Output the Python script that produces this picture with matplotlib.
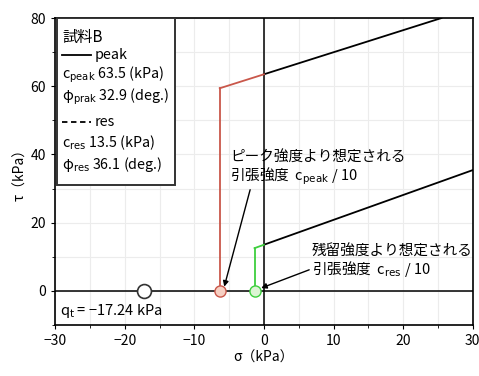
import numpy as np
import matplotlib
matplotlib.use('Agg')
import matplotlib.pyplot as plt
from matplotlib.patches import Rectangle
from matplotlib.lines import Line2D

plt.rcParams['font.family'] = ['Noto Sans CJK JP', 'DejaVu Sans']
plt.rcParams['mathtext.fontset'] = 'dejavusans'

# envelopes
peak_sigma = [-6.35, 0.0, 25.5]
peak_tau = [59.4, 63.5, 80.0]
res_sigma = [-1.35, 0.0, 30.0]
res_tau = [12.5, 13.5, 35.4]
qt = -17.24
legend_lines = ["試料B", "peak", r"c$_{\mathrm{peak}}$ 63.5 (kPa)", r"φ$_{\mathrm{prak}}$ 32.9 (deg.)",
                "res", r"c$_{\mathrm{res}}$ 13.5 (kPa)", r"φ$_{\mathrm{res}}$ 36.1 (deg.)"]

fig = plt.figure(figsize=(4.79, 3.76), dpi=100)
ax = fig.add_axes([0.115, 0.136, 0.872, 0.816])

ax.set_xlim(-30, 30)
ax.set_ylim(-10, 80)
ax.set_xticks(np.arange(-30, 31, 10))
ax.set_xticks(np.arange(-30, 31, 5), minor=True)
ax.set_yticks(np.arange(0, 81, 20))
ax.set_yticks(np.arange(-10, 81, 10), minor=True)
ax.grid(True, which='both', color='#ececec', lw=0.8)
ax.set_axisbelow(True)
ax.tick_params(labelsize=10, direction='out', length=3)
ax.tick_params(which='minor', length=2)
for s in ax.spines.values():
    s.set_linewidth(1.2)

ax.axhline(0, color='black', lw=1.1)
ax.axvline(0, color='black', lw=1.1)

red = '#c9574a'
green = '#3ecf3e'
# peak
ax.plot(peak_sigma[1:], peak_tau[1:], color='black', lw=1.3)
ax.plot(peak_sigma[:2], peak_tau[:2], color=red, lw=1.3)
ax.plot([peak_sigma[0], peak_sigma[0]], [0, peak_tau[0]], color=red, lw=1.3)
# res
ax.plot(res_sigma[1:], res_tau[1:], color='black', lw=1.3)
ax.plot(res_sigma[:2], res_tau[:2], color=green, lw=1.3)
ax.plot([res_sigma[0], res_sigma[0]], [0, res_tau[0]], color=green, lw=1.3)

ax.plot([qt], [0], 'o', ms=10, mfc='white', mec='#333333', mew=1.2, zorder=5)
ax.plot([peak_sigma[0]], [0], 'o', ms=8, mfc='#f6cfc2', mec=red, mew=1.0, zorder=5)
ax.plot([res_sigma[0]], [0], 'o', ms=8, mfc='#dcf5d4', mec=green, mew=1.0, zorder=5)

ax.text(-29.3, -6, r"q$_{\mathrm{t}}$ = −17.24 kPa", fontsize=10.5, va='center')

ax.annotate("ピーク強度より想定される\n引張強度  c$_{\\mathrm{peak}}$ / 10",
            xy=(-5.7, 1.2), xytext=(-4.9, 35.8), fontsize=10.5, va='center',
            linespacing=1.05,
            arrowprops=dict(arrowstyle='-|>', color='black', lw=1, shrinkA=0, shrinkB=0,
                            relpos=(0.12, 0.0), mutation_scale=8))
ax.annotate("残留強度より想定される\n引張強度  c$_{\\mathrm{res}}$ / 10",
            xy=(-0.4, 0.8), xytext=(6.9, 8.5), fontsize=10.5, va='center',
            linespacing=1.05,
            arrowprops=dict(arrowstyle='-|>', color='black', lw=1, shrinkA=0, shrinkB=0,
                            relpos=(0.0, 0.3), mutation_scale=8))

# legend box
ax.add_patch(Rectangle((0.005, 0.456), 0.282, 0.544, transform=ax.transAxes,
                       facecolor='white', edgecolor='#333333', lw=1.4, zorder=6))
ys = [0.938, 0.879, 0.814, 0.743, 0.661, 0.593, 0.524]
for i, (t, y) in enumerate(zip(legend_lines, ys)):
    x = 0.017
    if i in (1, 4):
        ls = '-' if i == 1 else (0, (3, 2))
        ax.add_line(Line2D([0.017, 0.085], [y, y], transform=ax.transAxes, color='black',
                           lw=1.3, ls=ls, zorder=7))
        x = 0.095
    ax.text(x, y, t, transform=ax.transAxes, fontsize=11 if i == 0 else 10.3,
            va='center', zorder=7)

ax.set_xlabel("σ（kPa）", fontsize=10, labelpad=2)
ax.set_ylabel("τ（kPa）", fontsize=10, labelpad=2)

plt.savefig('out.png', dpi=100)
